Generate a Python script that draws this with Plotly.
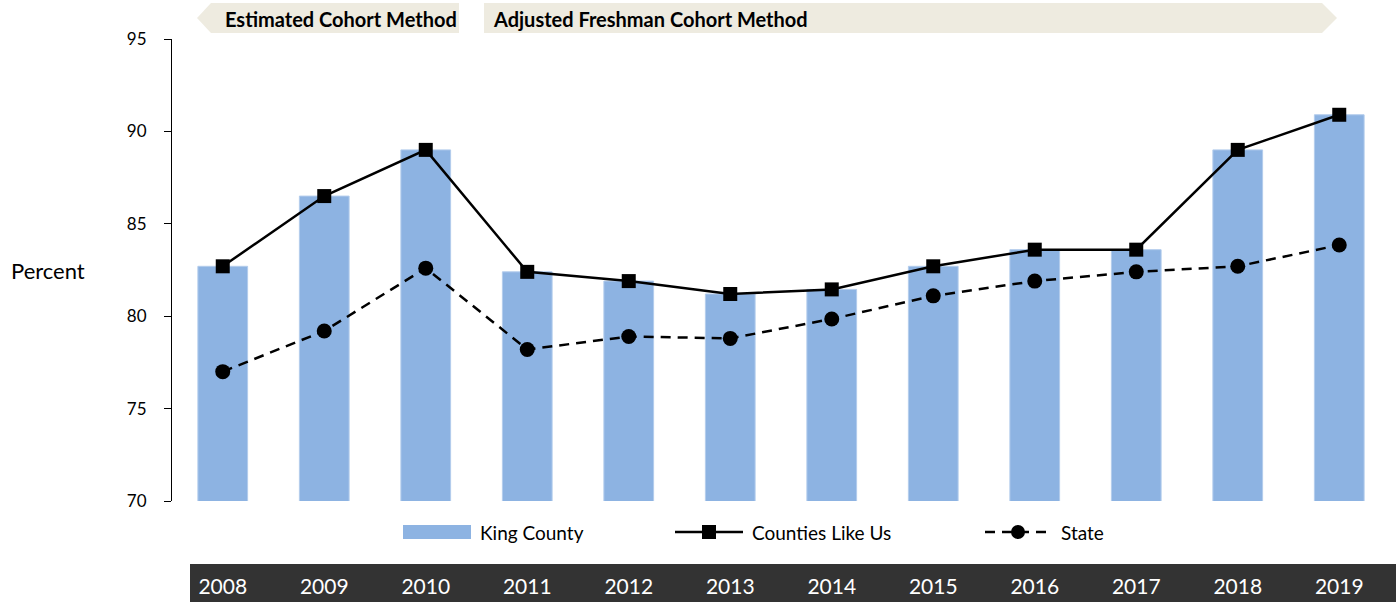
import plotly.graph_objects as go

# Graduation rates by cohort year
years = ["2008", "2009", "2010", "2011", "2012", "2013",
         "2014", "2015", "2016", "2017", "2018", "2019"]
king_county = [82.7, 86.5, 89.0, 82.4, 81.9, 81.2, 81.45, 82.7, 83.6, 83.6, 89.0, 90.9]
counties_like_us = [82.7, 86.5, 89.0, 82.4, 81.9, 81.2, 81.45, 82.7, 83.6, 83.6, 89.0, 90.9]
state = [77.0, 79.2, 82.6, 78.2, 78.9, 78.8, 79.85, 81.1, 81.9, 82.4, 82.7, 83.85]
y_ticks = [70, 75, 80, 85, 90, 95]

W, H = 1396, 602
L, R, T, B = 172, 6, 39, 101
PW, PH = W - L - R, H - T - B
FONT = "Lato"


def px(x):
    return (x - L) / PW


def py(y):
    return (H - B - y) / PH


fig = go.Figure()
fig.add_trace(go.Bar(
    x=years, y=king_county, name="King County",
    marker=dict(color="#8DB3E2", line=dict(color="#B3CCEC", width=1)),
    width=0.49, base=0,
))
fig.add_trace(go.Scatter(
    x=years, y=counties_like_us, name="Counties Like Us", mode="lines+markers",
    line=dict(color="black", width=2.5),
    marker=dict(symbol="square", size=14, color="black"),
))
fig.add_trace(go.Scatter(
    x=years, y=state, name="State", mode="lines+markers",
    line=dict(color="black", width=2.5, dash="10px,7px"),
    marker=dict(symbol="circle", size=15, color="black"),
))

shapes = []
annotations = []

# Method banners across the top
shapes.append(dict(
    type="path", xref="paper", yref="paper",
    path=f"M{px(197)},{py(18)} L{px(211)},{py(3)} L{px(459)},{py(3)} "
         f"L{px(459)},{py(33)} L{px(211)},{py(33)} Z",
    fillcolor="#EEEBE0", line=dict(width=0), layer="below"))
shapes.append(dict(
    type="path", xref="paper", yref="paper",
    path=f"M{px(484)},{py(3)} L{px(1322)},{py(3)} L{px(1337)},{py(18)} "
         f"L{px(1322)},{py(33)} L{px(484)},{py(33)} Z",
    fillcolor="#EEEBE0", line=dict(width=0), layer="below"))
annotations.append(dict(
    text="<b>Estimated Cohort Method</b>", xref="paper", yref="paper",
    x=px(223), y=py(19), xanchor="left", yanchor="middle", showarrow=False,
    font=dict(family=FONT, size=20, color="black")))
annotations.append(dict(
    text="<b>Adjusted Freshman Cohort Method</b>", xref="paper", yref="paper",
    x=px(491), y=py(19), xanchor="left", yanchor="middle", showarrow=False,
    font=dict(family=FONT, size=20, color="black")))

# Dark band behind the year labels
shapes.append(dict(
    type="rect", xref="paper", yref="paper",
    x0=px(190), x1=px(1396), y0=py(564), y1=py(602),
    fillcolor="#333333", line=dict(width=0), layer="below"))

# Y-axis title
annotations.append(dict(
    text="Percent", xref="paper", yref="paper",
    x=px(9), y=py(270), xanchor="left", yanchor="middle", showarrow=False,
    font=dict(family=FONT, size=22, color="black")))

# Legend row
ly = 532
shapes.append(dict(type="rect", xref="paper", yref="paper",
                   x0=px(403), x1=px(471), y0=py(525), y1=py(539),
                   fillcolor="#8DB3E2", line=dict(width=0)))
shapes.append(dict(type="line", xref="paper", yref="paper",
                   x0=px(675), x1=px(743), y0=py(ly), y1=py(ly),
                   line=dict(color="black", width=2.5)))
shapes.append(dict(type="rect", xref="paper", yref="paper",
                   x0=px(702), x1=px(716), y0=py(ly - 7), y1=py(ly + 7),
                   fillcolor="black", line=dict(width=0)))
shapes.append(dict(type="line", xref="paper", yref="paper",
                   x0=px(985), x1=px(1051), y0=py(ly), y1=py(ly),
                   line=dict(color="black", width=2.5, dash="10px,7px")))
shapes.append(dict(type="circle", xref="paper", yref="paper",
                   x0=px(1011), x1=px(1025), y0=py(ly - 7), y1=py(ly + 7),
                   fillcolor="black", line=dict(width=0)))
for label, lx in [("King County", 478), ("Counties Like Us", 750), ("State", 1059)]:
    annotations.append(dict(
        text=label, xref="paper", yref="paper", x=px(lx), y=py(ly),
        xanchor="left", yanchor="middle", showarrow=False,
        font=dict(family=FONT, size=19, color="black")))

fig.update_layout(
    width=W, height=H,
    margin=dict(l=L, r=R, t=T, b=B, pad=0, autoexpand=False),
    plot_bgcolor="white", paper_bgcolor="white",
    showlegend=False,
    bargap=0.51,
    shapes=shapes,
    annotations=annotations,
    font=dict(family=FONT, color="black"),
    xaxis=dict(
        type="category", categoryorder="array", categoryarray=years,
        range=[-0.5, 11.5], showline=False, showgrid=False, zeroline=False,
        ticks="", tickfont=dict(family=FONT, size=21, color="white"),
        ticklabelstandoff=71, automargin=False,
    ),
    yaxis=dict(
        range=[70, 95], tickvals=y_ticks, showgrid=False, zeroline=False,
        showline=True, linecolor="black", linewidth=1,
        ticks="outside", ticklen=7, tickcolor="black", tickwidth=1,
        tickfont=dict(family=FONT, size=17, color="black"),
        ticklabelstandoff=14, automargin=False,
    ),
)

fig.write_html("out.html")
